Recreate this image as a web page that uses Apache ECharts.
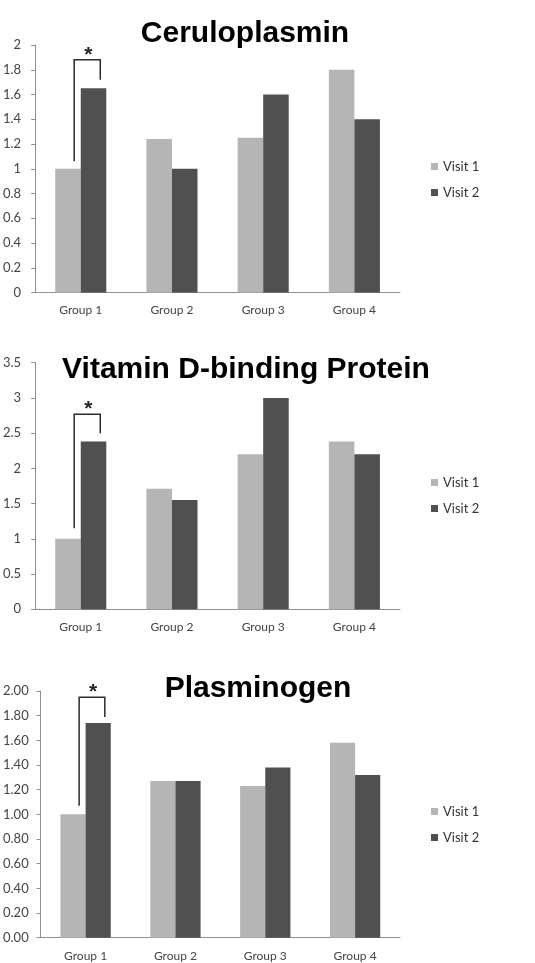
<!DOCTYPE html>
<html>
<head>
<meta charset="utf-8">
<script src="https://cdn.jsdelivr.net/npm/echarts@6/dist/echarts.min.js"></script>
<style>
  html, body { margin: 0; padding: 0; background: #fff; }
  #main { width: 535px; height: 963px; }
</style>
</head>
<body>
<div id="main"></div>
<script>
// data
var groups = ['Group 1', 'Group 2', 'Group 3', 'Group 4'];
var titles = ['Ceruloplasmin', 'Vitamin D-binding Protein', 'Plasminogen'];
var visit1 = [
  [1.00, 1.24, 1.25, 1.80],
  [1.00, 1.71, 2.20, 2.38],
  [1.00, 1.27, 1.23, 1.58]
];
var visit2 = [
  [1.65, 1.00, 1.60, 1.40],
  [2.38, 1.55, 3.00, 2.20],
  [1.74, 1.27, 1.38, 1.32]
];
var yMax = [2, 3.5, 2];
var yStep = [0.2, 0.5, 0.2];
var yDecimals = [-1, -1, 2];
// significance bracket: [group index, left end, top, right end]
var brackets = [
  [0, 1.06, 1.88, 1.72],
  [0, 1.15, 2.77, 2.50],
  [0, 1.07, 1.95, 1.79]
];

var chart = echarts.init(document.getElementById('main'));

var font = 'Lato';
var lightGray = '#b5b5b5';
var darkGray = '#505050';
var axisGray = '#8f8f8f';

// panel layout
var panels = [
  { left: 30, top: 45, height: 247.5, titleX: 240, titleTop: 14, legendTop: 155, labelMargin: 14 },
  { left: 30, top: 362.7, height: 246.6, titleX: 241, titleTop: 349.5, legendTop: 471, labelMargin: 14 },
  { left: 35.7, top: 691, height: 246.7, titleX: 253, titleTop: 669, legendTop: 800, labelMargin: 12 }
];

function renderBracket(params, api) {
  var band = api.size([1, 0])[0];
  var top = api.coord([api.value(0), api.value(2)]);
  var yl = api.coord([api.value(0), api.value(1)])[1];
  var yr = api.coord([api.value(0), api.value(3)])[1];
  var x1 = top[0] - band * 0.072;
  var x2 = top[0] + band * 0.214;
  return {
    type: 'group',
    children: [
      {
        type: 'polyline',
        shape: { points: [[x1, yl], [x1, top[1]], [x2, top[1]], [x2, yr]] },
        style: { stroke: '#2a2a2a', lineWidth: 1.5, fill: null }
      },
      {
        type: 'text',
        style: {
          text: '*', x: (x1 + x2) / 2 + 1, y: top[1] - 5,
          align: 'center', verticalAlign: 'middle',
          font: 'bold 21px "Liberation Sans"', fill: '#222'
        }
      }
    ]
  };
}

var option = {
  backgroundColor: '#fff',
  animation: false,
  title: [],
  legend: [],
  grid: [],
  xAxis: [],
  yAxis: [],
  series: []
};

panels.forEach(function (p, i) {
  option.title.push({
    text: titles[i],
    left: p.titleX,
    top: p.titleTop,
    textAlign: 'center',
    textStyle: { fontFamily: '"Liberation Sans", Arial', fontWeight: 'bold', fontSize: 30, color: '#000' }
  });
  option.legend.push({
    data: ['Visit 1', 'Visit 2'],
    orient: 'vertical',
    left: 426,
    top: p.legendTop,
    icon: 'rect',
    itemWidth: 7,
    itemHeight: 7,
    itemGap: 13,
    selectedMode: false,
    textStyle: { fontFamily: font, fontSize: 13, color: '#333' }
  });
  option.grid.push({ left: p.left, top: p.top, width: 400 - p.left, height: p.height });
  option.xAxis.push({
    type: 'category',
    gridIndex: i,
    data: groups,
    axisLine: { lineStyle: { color: axisGray, width: 1 } },
    axisTick: { length: 4, lineStyle: { color: axisGray } },
    axisLabel: { fontFamily: font, fontSize: 12, color: '#444', margin: 12 }
  });
  option.yAxis.push({
    type: 'value',
    gridIndex: i,
    min: 0,
    max: yMax[i],
    interval: yStep[i],
    splitLine: { show: false },
    axisLine: { show: true, lineStyle: { color: axisGray, width: 1 } },
    axisTick: { show: true, length: 4, lineStyle: { color: axisGray } },
    axisLabel: {
      fontFamily: font, fontSize: 13, color: '#444', margin: p.labelMargin,
      formatter: function (v) {
        return yDecimals[i] >= 0 ? v.toFixed(yDecimals[i]) : String(+v.toFixed(2));
      }
    }
  });
  option.series.push({
    name: 'Visit 1', type: 'bar', xAxisIndex: i, yAxisIndex: i,
    data: visit1[i], itemStyle: { color: lightGray },
    barGap: '0%', barCategoryGap: '44%'
  });
  option.series.push({
    name: 'Visit 2', type: 'bar', xAxisIndex: i, yAxisIndex: i,
    data: visit2[i], itemStyle: { color: darkGray },
    barGap: '0%', barCategoryGap: '44%'
  });
  option.series.push({
    name: 'bracket' + i, type: 'custom', xAxisIndex: i, yAxisIndex: i,
    renderItem: renderBracket,
    encode: { x: 0, y: [1, 2, 3] },
    data: [brackets[i]],
    z: 5
  });
});

chart.setOption(option);
</script>
</body>
</html>
